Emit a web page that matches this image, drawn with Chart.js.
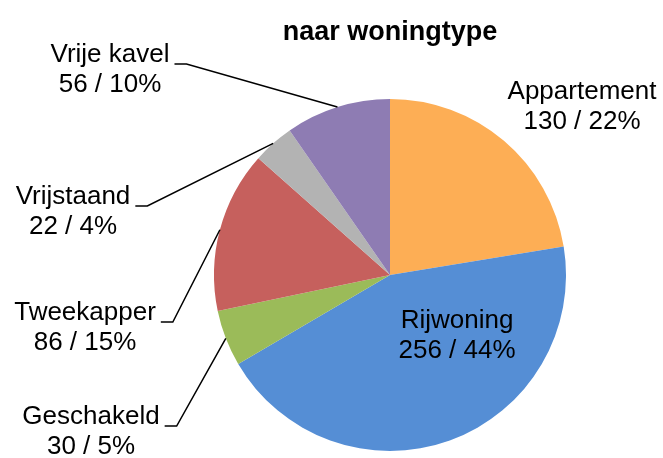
<!DOCTYPE html>
<html>
<head>
<meta charset="utf-8">
<script src="https://cdn.jsdelivr.net/npm/chart.js@4/dist/chart.umd.min.js"></script>
<style>
  html, body { margin: 0; padding: 0; background: #fff; }
  #wrap { width: 663px; height: 458px; }
</style>
</head>
<body>
<div id="wrap"><canvas id="myChart" width="663" height="458"></canvas></div>
<script>
var titleText = "naar woningtype";
var types = ["Appartement", "Rijwoning", "Geschakeld", "Tweekapper", "Vrijstaand", "Vrije kavel"];
var counts = [130, 256, 30, 86, 22, 56];
var shares = ["22%", "44%", "5%", "15%", "4%", "10%"];
var colors = ["#FDAE55", "#558ED5", "#9BBB59", "#C6605D", "#B3B3B3", "#8E7CB3"];

// where each label sits (centre of first line) and whether it gets a leader line
var labelSpots = [
  { x: 582, y: 92, leader: false },
  { x: 457, y: 321, leader: false },
  { x: 91, y: 417, leader: true },
  { x: 85, y: 313, leader: true },
  { x: 73, y: 197, leader: true },
  { x: 110, y: 55, leader: true }
];

var labelFont = "26px 'Liberation Sans', Arial, sans-serif";

var pieLabels = {
  id: "pieLabels",
  afterDraw: function (chart) {
    var ctx = chart.ctx;
    var arcs = chart.getDatasetMeta(0).data;
    ctx.save();
    // title
    ctx.fillStyle = "#000";
    ctx.font = "bold 27px 'Liberation Sans', Arial, sans-serif";
    ctx.textAlign = "center";
    ctx.textBaseline = "alphabetic";
    ctx.fillText(titleText, 390, 40);

    ctx.font = labelFont;
    ctx.textBaseline = "middle";
    for (var i = 0; i < arcs.length; i++) {
      var spot = labelSpots[i];
      var line1 = types[i];
      var line2 = counts[i] + " / " + shares[i];
      ctx.fillStyle = "#000";
      ctx.fillText(line1, spot.x, spot.y);
      ctx.fillText(line2, spot.x, spot.y + 30);
      if (spot.leader) {
        var a = arcs[i].getProps(["x", "y", "startAngle", "endAngle", "outerRadius"], true);
        var mid = (a.startAngle + a.endAngle) / 2;
        var ex = a.x + Math.cos(mid) * a.outerRadius;
        var ey = a.y + Math.sin(mid) * a.outerRadius;
        var w = ctx.measureText(line1).width;
        var sx = spot.x + w / 2 + 5;
        var sy = spot.y + 9;
        ctx.strokeStyle = "#000";
        ctx.lineWidth = 1.5;
        ctx.beginPath();
        ctx.moveTo(sx, sy);
        ctx.lineTo(sx + 12, sy);
        ctx.lineTo(ex, ey);
        ctx.stroke();
      }
    }
    ctx.restore();
  }
};

var ctx = document.getElementById("myChart").getContext("2d");
var myChart = new Chart(ctx, {
  type: "pie",
  data: {
    labels: types,
    datasets: [
      {
        data: counts,
        backgroundColor: colors,
        borderWidth: 0
      }
    ]
  },
  options: {
    responsive: false,
    animation: false,
    layout: { padding: { left: 214, right: 97, top: 99, bottom: 7 } },
    plugins: {
      legend: { display: false },
      title: { display: false },
      tooltip: { enabled: false }
    }
  },
  plugins: [pieLabels]
});
</script>
</body>
</html>
